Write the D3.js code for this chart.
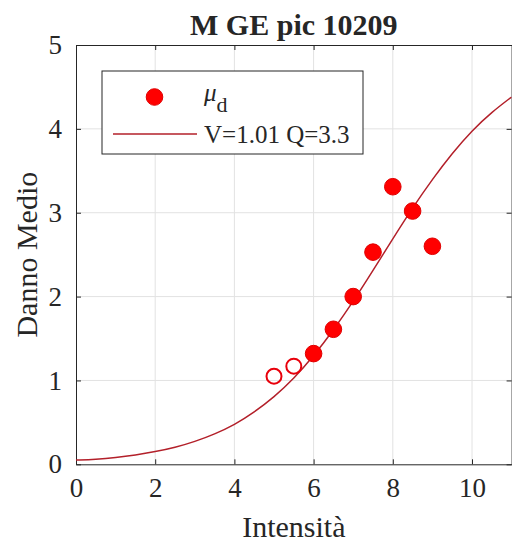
<!DOCTYPE html>
<html>
<head>
<meta charset="utf-8">
<script src="https://cdn.jsdelivr.net/npm/d3@7"></script>
<style>
  body { margin: 0; background: #fff; }
  svg text { font-family: "Liberation Serif", "Times New Roman", serif; fill: #262626; }
</style>
</head>
<body>
<svg id="chart"></svg>
<script>
// observed mean damage (filled) and discarded points (hollow)
const obsI = [6, 6.5, 7, 7.5, 8, 8.5, 9];
const obsMu = [1.32, 1.61, 2.0, 2.53, 3.31, 3.02, 2.60];
const skipI = [5, 5.5];
const skipMu = [1.05, 1.17];

// fitted curve, every half step
const curveI = [0, 0.5, 1, 1.5, 2, 2.5, 3, 3.5, 4, 4.5, 5, 5.5, 6, 6.5, 7, 7.5, 8, 8.5, 9, 9.5, 10, 10.5, 11];
const curveMu = [0.05, 0.06, 0.08, 0.11, 0.15, 0.2, 0.27, 0.36, 0.47, 0.62, 0.8, 1.02, 1.29, 1.6, 1.94, 2.31, 2.69, 3.06, 3.4, 3.71, 3.98, 4.2, 4.38];

const xTicks = [0, 2, 4, 6, 8, 10];
const yTicks = [0, 1, 2, 3, 4, 5];

const titleText = 'M GE pic 10209';
const curveLabel = 'V=1.01 Q=3.3';

const config = {
  width: 512, height: 543,
  left: 76, right: 511.6, top: 45, bottom: 464.3
};

const serif = '"Liberation Serif", "Times New Roman", serif';

const svg = d3.select('#chart')
  .attr('width', config.width)
  .attr('height', config.height);

const x = d3.scaleLinear().domain([0, 11]).range([config.left, config.right]);
const y = d3.scaleLinear().domain([0, 5]).range([config.bottom, config.top]);

// grid
svg.append('g').selectAll('line').data(xTicks.filter(d => d > 0)).join('line')
  .attr('x1', d => x(d)).attr('x2', d => x(d))
  .attr('y1', config.top).attr('y2', config.bottom)
  .attr('stroke', '#e2e2e2').attr('stroke-width', 1);
svg.append('g').selectAll('line').data(yTicks.filter(d => d > 0 && d < 5)).join('line')
  .attr('x1', config.left).attr('x2', config.right)
  .attr('y1', d => y(d)).attr('y2', d => y(d))
  .attr('stroke', '#e2e2e2').attr('stroke-width', 1);

// axes, ticks inside
const xAxis = d3.axisBottom(x).tickValues(xTicks).tickFormat(d3.format('d'))
  .tickSize(-5).tickPadding(14).tickSizeOuter(0);
const yAxis = d3.axisLeft(y).tickValues(yTicks).tickFormat(d3.format('d'))
  .tickSize(-5).tickPadding(14).tickSizeOuter(0);

const xAxisG = svg.append('g')
  .attr('transform', `translate(0,${config.bottom})`)
  .call(xAxis);
const yAxisG = svg.append('g')
  .attr('transform', `translate(${config.left},0)`)
  .call(yAxis);

[xAxisG, yAxisG].forEach(g => {
  g.attr('font-family', serif).attr('font-size', 27);
  g.selectAll('.tick text').attr('fill', '#262626');
  g.selectAll('.tick line').attr('stroke', '#262626');
  g.select('.domain').attr('stroke', '#262626');
});
xAxisG.selectAll('.tick text').attr('dy', '0.71em');

// top and right ticks
svg.append('g').attr('transform', `translate(0,${config.top})`)
  .call(d3.axisTop(x).tickValues(xTicks).tickSize(-5).tickFormat('').tickSizeOuter(0))
  .call(g => g.selectAll('line, path').attr('stroke', '#262626'));
svg.append('g').attr('transform', `translate(${config.right},0)`)
  .call(d3.axisRight(y).tickValues(yTicks).tickSize(-5).tickFormat('').tickSizeOuter(0))
  .call(g => g.selectAll('line, path').attr('stroke', '#262626'));

// clip
svg.append('clipPath').attr('id', 'plot-clip')
  .append('rect')
  .attr('x', config.left).attr('y', config.top)
  .attr('width', config.right - config.left).attr('height', config.bottom - config.top);

const curveData = curveI.map((d, i) => ({ i: d, mu: curveMu[i] }));
const line = d3.line().x(d => x(d.i)).y(d => y(d.mu)).curve(d3.curveBasis);

svg.append('path')
  .datum(curveData)
  .attr('clip-path', 'url(#plot-clip)')
  .attr('fill', 'none')
  .attr('stroke', '#b3202a')
  .attr('stroke-width', 1.5)
  .attr('d', line);

// hollow points
svg.append('g').selectAll('circle')
  .data(skipI.map((d, i) => ({ i: d, mu: skipMu[i] })))
  .join('circle')
  .attr('cx', d => x(d.i)).attr('cy', d => y(d.mu))
  .attr('r', 7.5)
  .attr('fill', 'none')
  .attr('stroke', '#e8000b')
  .attr('stroke-width', 2);

// filled points
svg.append('g').selectAll('circle')
  .data(obsI.map((d, i) => ({ i: d, mu: obsMu[i] })))
  .join('circle')
  .attr('cx', d => x(d.i)).attr('cy', d => y(d.mu))
  .attr('r', 8.3)
  .attr('fill', '#ff0000')
  .attr('stroke', '#e00000')
  .attr('stroke-width', 1);

// legend
const legend = svg.append('g');
legend.append('rect')
  .attr('x', 102).attr('y', 71).attr('width', 261).attr('height', 83)
  .attr('fill', '#fff').attr('stroke', '#262626').attr('stroke-width', 1);
legend.append('circle')
  .attr('cx', 154.5).attr('cy', 97).attr('r', 8.3)
  .attr('fill', '#ff0000').attr('stroke', '#e00000');
const muText = legend.append('text')
  .attr('x', 204).attr('y', 101)
  .style('font-size', '25px');
muText.append('tspan').style('font-style', 'italic').text('μ');
muText.append('tspan').attr('dy', 11).style('font-size', '22px').text('d');
legend.append('line')
  .attr('x1', 113).attr('x2', 197).attr('y1', 134).attr('y2', 134)
  .attr('stroke', '#b3202a').attr('stroke-width', 1.5);
legend.append('text')
  .attr('x', 204).attr('y', 142.5)
  .style('font-size', '25px')
  .text(curveLabel);

// titles
svg.append('text')
  .attr('x', (config.left + config.right) / 2).attr('y', 34.5)
  .attr('text-anchor', 'middle')
  .style('font-size', '30px').style('font-weight', 'bold')
  .attr('fill', '#000')
  .text(titleText);

svg.append('text')
  .attr('x', (config.left + config.right) / 2).attr('y', 537)
  .attr('text-anchor', 'middle')
  .style('font-size', '30px')
  .text('Intensità');

svg.append('text')
  .attr('transform', `translate(37,${(config.top + config.bottom) / 2}) rotate(-90)`)
  .attr('text-anchor', 'middle')
  .style('font-size', '30px')
  .text('Danno Medio');
</script>
</body>
</html>
